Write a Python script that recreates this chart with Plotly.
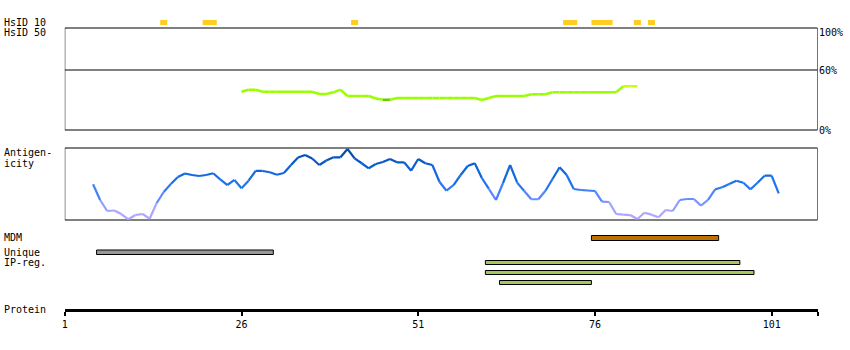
import plotly.graph_objects as go

W, H = 850, 350

# ---------------- data ----------------
protein_length = 107
tick_vals = [1, 26, 51, 76, 101]

# HsID 10 hits (start, end residue)
hsid10_regions = [(15, 15), (21, 22), (42, 42), (72, 73), (76, 78), (82, 82), (84, 84)]

# HsID 50 identity (%) per residue
hsid50_res = list(range(26, 83))
hsid50_val = [38.3, 40.3, 40.3, 38.3, 38.3, 38.3, 38.3, 38.3, 38.3, 38.3, 38.3,
              36.0, 36.0, 37.7, 40.3, 34.0, 34.0, 34.0, 34.0, 31.5, 30.3, 30.3,
              32.0, 32.0, 32.0, 32.0, 32.0, 32.0, 32.0, 32.0, 32.0, 32.0, 32.0,
              32.0, 30.0, 32.0, 34.0, 34.0, 34.0, 34.0, 34.0, 35.7, 35.7, 35.7,
              37.7, 37.7, 37.7, 37.7, 37.7, 37.7, 37.7, 37.7, 37.7, 37.7,
              43.7, 43.7, 43.7]

# Antigenicity score (relative, 0-100) per residue
antigen_res = list(range(5, 103))
antigen_val = [49.6, 27.8, 12.5, 13.2, 8.3, 1.0, 6.9, 8.3, 1.8, 23.6,
               38.9, 50.0, 59.7, 64.6, 62.5, 61.1, 62.5, 64.9, 56.3, 48.6,
               55.6, 44.0, 54.6, 68.1, 68.1, 66.3, 62.9, 65.3, 76.4, 86.8,
               90.3, 85.4, 76.4, 82.6, 87.1, 87.1, 98.6, 85.7, 78.8, 71.8,
               77.8, 80.6, 84.7, 80.1, 80.1, 68.5, 84.7, 78.8, 76.4, 53.2,
               40.7, 48.6, 62.5, 75.0, 78.8, 58.3, 43.1, 27.8, 51.4, 76.4,
               51.8, 40.3, 28.8, 28.8, 40.7, 56.9, 73.2, 62.5, 43.1, 41.7,
               41.0, 40.3, 25.4, 25.0, 8.3, 7.6, 6.9, 1.4, 10.1, 7.4,
               3.8, 13.9, 12.5, 27.8, 29.2, 29.2, 19.9, 27.8, 42.6, 45.4,
               50.0, 54.6, 51.8, 42.6, 51.8, 61.5, 61.5, 37.1]

mdm_regions = [(76, 93)]
unique_regions = [(6, 30)]
ipreg_regions = [(61, 96), (61, 98), (63, 75)]

# ---------------- styling ----------------
FONT = "DejaVu Sans Mono"
YELLOW = "#ffcc22"
MDM_COL = "#bb7000"
UNIQUE_COL = "#999999"
IPREG_COL = "#a3c95a"

x_end = protein_length + 0.5


def py(px):
    """pixel row -> paper y"""
    return 1 - px / H


def lerp_color(v, stops):
    for (a, ca), (b, cb) in zip(stops[:-1], stops[1:]):
        if v <= b:
            t = 0 if b == a else (v - a) / (b - a)
            t = max(0, min(1, t))
            c = [round(ca[i] + (cb[i] - ca[i]) * t) for i in range(3)]
            return "rgb(%d,%d,%d)" % tuple(c)
    return "rgb(%d,%d,%d)" % stops[-1][1]


antigen_stops = [(0, (175, 165, 255)), (15, (170, 165, 255)), (30, (100, 140, 255)),
                 (50, (30, 115, 240)), (75, (10, 95, 210)), (100, (0, 70, 160))]

fig = go.Figure()

# HsID 50 line, per segment coloured
for i in range(len(hsid50_res) - 1):
    v0, v1 = hsid50_val[i], hsid50_val[i + 1]
    if max(v0, v1) < 31:
        col = "#66cc00"
    elif min(v0, v1) > 42:
        col = "#ccff00"
    else:
        col = "#99ff00"
    fig.add_trace(go.Scatter(x=hsid50_res[i:i + 2], y=hsid50_val[i:i + 2], mode="lines",
                             line=dict(color=col, width=2.5), xaxis="x", yaxis="y",
                             hoverinfo="skip", showlegend=False))

# Antigenicity line, per segment coloured
for i in range(len(antigen_res) - 1):
    v = (antigen_val[i] + antigen_val[i + 1]) / 2
    fig.add_trace(go.Scatter(x=antigen_res[i:i + 2], y=antigen_val[i:i + 2], mode="lines",
                             line=dict(color=lerp_color(v, antigen_stops), width=2.2),
                             xaxis="x", yaxis="y2", hoverinfo="skip", showlegend=False))

shapes = []
# panel boxes
shapes.append(dict(type="rect", xref="x", yref="y", x0=1, x1=x_end, y0=0, y1=102,
                   line=dict(color="black", width=1), fillcolor="rgba(0,0,0,0)", layer="below"))
shapes.append(dict(type="line", xref="x", yref="y", x0=1, x1=x_end, y0=60, y1=60,
                   line=dict(color="black", width=1), layer="below"))
shapes.append(dict(type="rect", xref="x", yref="y2", x0=1, x1=x_end, y0=0, y1=100,
                   line=dict(color="black", width=1), fillcolor="rgba(0,0,0,0)", layer="below"))

# HsID 10 hits
for s, e in hsid10_regions:
    shapes.append(dict(type="rect", xref="x", yref="y", x0=s - 0.5, x1=e + 0.5, y0=105, y1=110,
                       line=dict(width=0), fillcolor=YELLOW))


def track(regions, y0, y1, col):
    for s, e in regions:
        shapes.append(dict(type="rect", xref="x", yref="y3", x0=s - 0.5, x1=e + 0.5,
                           y0=y0, y1=y1, fillcolor=col, line=dict(color="black", width=1)))


track(mdm_regions, 235.5, 240.5, MDM_COL)
track(unique_regions, 250, 254.5, UNIQUE_COL)
for k, reg in enumerate(ipreg_regions):
    track([reg], 260.5 + 10 * k, 264.5 + 10 * k, IPREG_COL)

annotations = []


def label(text, xpx, ypx, anchor="left"):
    annotations.append(dict(text=text, x=xpx / W, y=py(ypx), xref="paper", yref="paper",
                            xanchor=anchor, yanchor="middle", showarrow=False,
                            font=dict(family=FONT, size=10, color="black"), borderpad=0))


LX = 0
label("HsID 10", LX, 22.5)
label("HsID 50", LX, 32.5)
label("100%", 818, 32.5)
label("60%", 818, 70.5)
label("0%", 818, 130)
label("Antigen-", LX, 152.5)
label("icity", LX, 163)
label("MDM", LX, 237.5)
label("Unique", LX, 252.5)
label("IP-reg.", LX, 262.5)
label("Protein", LX, 309.5)

fig.update_layout(
    width=W, height=H,
    margin=dict(l=0, r=0, t=0, b=0, pad=0),
    paper_bgcolor="white", plot_bgcolor="rgba(0,0,0,0)",
    showlegend=False,
    shapes=shapes, annotations=annotations,
    xaxis=dict(domain=[62 / W, 817.5 / W], range=[1, x_end], anchor="free",
               position=py(309.5), showgrid=False, zeroline=False,
               showline=True, linecolor="black", linewidth=3,
               ticks="outside", ticklen=4, tickwidth=2, tickcolor="black",
               tickvals=tick_vals + [x_end], ticktext=[str(t) for t in tick_vals] + [""],
               tickfont=dict(family=FONT, size=10, color="black")),
    yaxis=dict(domain=[py(135), py(10)], range=[-5, 120], visible=False, fixedrange=True),
    yaxis2=dict(domain=[py(223), py(145)], range=[-3 / 72 * 100, 100 + 3 / 72 * 100],
                visible=False),
    yaxis3=dict(domain=[py(300), py(225)], range=[300, 225], visible=False),
)

fig.write_html("out.html")
